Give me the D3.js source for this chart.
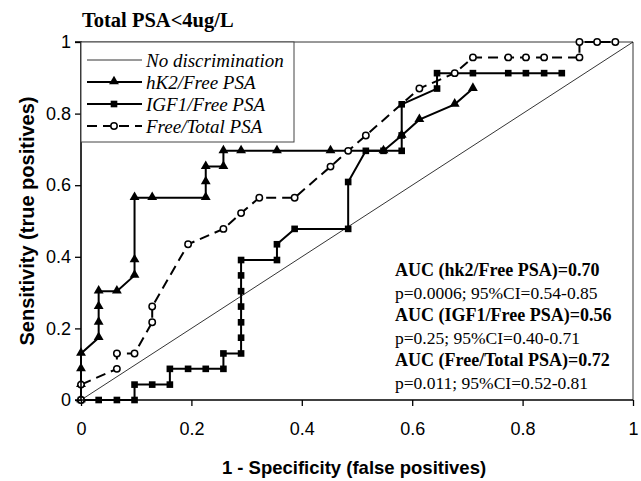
<!DOCTYPE html>
<html><head><meta charset="utf-8">
<script src="https://cdn.jsdelivr.net/npm/d3@7"></script>
<style>body{margin:0;background:#fff}</style>
</head><body><svg id="c" width="641" height="481"></svg>
<script>
const tickValues = [0, 0.2, 0.4, 0.6, 0.8, 1];
const tickLabels = ["0", "0.2", "0.4", "0.6", "0.8", "1"];

const diagX = [0, 1];
const diagY = [0, 1];

const hk2X = [0, 0, 0, 0, 0.032, 0.032, 0.032, 0.032, 0.065, 0.097, 0.097, 0.097, 0.129, 0.226, 0.226, 0.226, 0.258, 0.258, 0.290, 0.355, 0.452, 0.548, 0.581, 0.613, 0.677, 0.710];
const hk2Y = [0, 0.043, 0.087, 0.130, 0.174, 0.217, 0.261, 0.304, 0.304, 0.348, 0.391, 0.565, 0.565, 0.565, 0.609, 0.652, 0.652, 0.696, 0.696, 0.696, 0.696, 0.696, 0.739, 0.783, 0.826, 0.870];

const igfX = [0, 0.032, 0.065, 0.097, 0.097, 0.129, 0.161, 0.161, 0.194, 0.226, 0.258, 0.258, 0.290, 0.290, 0.290, 0.290, 0.290, 0.290, 0.290, 0.355, 0.355, 0.387, 0.484, 0.484, 0.516, 0.548, 0.581, 0.581, 0.581, 0.645, 0.645, 0.710, 0.774, 0.806, 0.839, 0.871];
const igfY = [0, 0, 0, 0, 0.043, 0.043, 0.043, 0.087, 0.087, 0.087, 0.087, 0.130, 0.130, 0.174, 0.217, 0.261, 0.304, 0.348, 0.391, 0.391, 0.435, 0.478, 0.478, 0.609, 0.696, 0.696, 0.696, 0.739, 0.826, 0.870, 0.913, 0.913, 0.913, 0.913, 0.913, 0.913];

const ftX = [0, 0, 0.065, 0.065, 0.097, 0.129, 0.129, 0.194, 0.258, 0.290, 0.323, 0.387, 0.452, 0.484, 0.516, 0.613, 0.677, 0.710, 0.774, 0.806, 0.839, 0.903, 0.903, 0.935, 0.968];
const ftY = [0, 0.043, 0.087, 0.130, 0.130, 0.217, 0.261, 0.435, 0.478, 0.522, 0.565, 0.565, 0.652, 0.696, 0.739, 0.870, 0.913, 0.957, 0.957, 0.957, 0.957, 0.957, 1, 1, 1];

const legendLabels = ["No discrimination", "hK2/Free PSA", "IGF1/Free PSA", "Free/Total PSA"];
const aucLines = [
  ["AUC (hk2/Free PSA)=0.70", true],
  ["p=0.0006; 95%CI=0.54-0.85", false],
  ["AUC (IGF1/Free PSA)=0.56", true],
  ["p=0.25; 95%CI=0.40-0.71", false],
  ["AUC (Free/Total PSA)=0.72", true],
  ["p=0.011; 95%CI=0.52-0.81", false]
];
const titleText = "Total PSA<4ug/L";
const xTitle = "1 - Specificity (false positives)";
const yTitle = "Sensitivity (true positives)";

const L = 81, R = 633, T = 42, B = 400;
const svg = d3.select("#c");
const x = d3.scaleLinear().domain([0, 1]).range([L, R]);
const y = d3.scaleLinear().domain([0, 1]).range([B, T]);

// frame (top, right thin)
svg.append("path").attr("d", `M${L},${T}H${R}V${B}`).attr("fill", "none").attr("stroke", "#333").attr("stroke-width", 1);

// diagonal
svg.append("path").datum(diagX.map((d, i) => [d, diagY[i]]))
  .attr("d", d3.line().x(d => x(d[0])).y(d => y(d[1])))
  .attr("fill", "none").attr("stroke", "#000").attr("stroke-width", 0.8);

function series(xs, ys, dash, marker) {
  const pts = xs.map((d, i) => [d, ys[i]]);
  svg.append("path").datum(pts)
    .attr("d", d3.line().x(d => x(d[0])).y(d => y(d[1])))
    .attr("fill", "none").attr("stroke", "#000").attr("stroke-width", 2)
    .attr("stroke-dasharray", dash || null);
  const g = svg.append("g");
  pts.forEach(p => drawMarker(g, x(p[0]), y(p[1]), marker));
}
function drawMarker(g, cx, cy, marker) {
  if (marker === "tri") {
    g.append("path").attr("d", d3.symbol(d3.symbolTriangle, 42)()).attr("transform", `translate(${cx},${cy - 0.5})`).attr("fill", "#000");
  } else if (marker === "sq") {
    g.append("path").attr("d", d3.symbol(d3.symbolSquare, 44)()).attr("transform", `translate(${cx},${cy})`).attr("fill", "#000");
  } else if (marker === "circ") {
    g.append("circle").attr("cx", cx).attr("cy", cy).attr("r", 3.2).attr("fill", "#fff").attr("stroke", "#000").attr("stroke-width", 1.5);
  }
}

series(hk2X, hk2Y, null, "tri");
series(igfX, igfY, null, "sq");
series(ftX, ftY, "10,6", "circ");

// axes
const xAxis = d3.axisBottom(x).tickValues(tickValues).tickFormat((d, i) => tickLabels[i]).tickSize(6).tickPadding(16);
const yAxis = d3.axisLeft(y).tickValues(tickValues).tickFormat((d, i) => tickLabels[i]).tickSize(6).tickPadding(4);
const gx = svg.append("g").attr("transform", `translate(0,${B})`).call(xAxis);
const gy = svg.append("g").attr("transform", `translate(${L},0)`).call(yAxis);
[gx, gy].forEach(g => {
  g.select(".domain").attr("stroke", "#000").attr("stroke-width", 1.6);
  g.selectAll(".tick line").attr("stroke", "#000").attr("stroke-width", 1.3);
  g.selectAll(".tick text").attr("font-family", "Liberation Sans, Arial, sans-serif").attr("font-size", 18).attr("fill", "#000");
});
gx.select(".domain").attr("d", `M${L},0H${R}`);
gx.selectAll(".tick line").attr("y2", 6);
gy.select(".domain").attr("d", `M-6,${B}H0V${T}H-6`);

// legend
const lg = svg.append("g");
lg.append("rect").attr("x", L).attr("y", T).attr("width", 213).attr("height", 100)
  .attr("fill", "#fff").attr("stroke", "#444").attr("stroke-width", 1);
const rowY = [60, 82, 104, 126];
const styles = [
  {w: 0.8, dash: null, m: null},
  {w: 2, dash: null, m: "tri"},
  {w: 2, dash: null, m: "sq"},
  {w: 2, dash: "10,6", m: "circ"}
];
legendLabels.forEach((lab, i) => {
  lg.append("line").attr("x1", 87).attr("x2", 142).attr("y1", rowY[i]).attr("y2", rowY[i])
    .attr("stroke", "#000").attr("stroke-width", styles[i].w).attr("stroke-dasharray", styles[i].dash);
  if (styles[i].m) drawMarker(lg, 114, rowY[i], styles[i].m);
  lg.append("text").attr("x", 146).attr("y", rowY[i] + 6.5).text(lab)
    .attr("font-family", "Liberation Serif, Times New Roman, serif").attr("font-style", "italic")
    .attr("font-size", 19).attr("fill", "#000");
});

// title
svg.append("text").attr("x", 82).attr("y", 27).text(titleText)
  .attr("font-family", "Liberation Serif, Times New Roman, serif").attr("font-weight", "bold")
  .attr("font-size", 20.5).attr("fill", "#000");

// AUC text
aucLines.forEach((l, i) => {
  svg.append("text").attr("x", 395).attr("y", 276 + i * 22.6).text(l[0])
    .attr("font-family", "Liberation Serif, Times New Roman, serif")
    .attr("font-weight", l[1] ? "bold" : "normal")
    .attr("font-size", l[1] ? 18 : 17.5).attr("fill", "#000");
});

// axis titles
svg.append("text").attr("x", 354).attr("y", 474).attr("text-anchor", "middle").text(xTitle)
  .attr("font-family", "Liberation Sans, Arial, sans-serif").attr("font-weight", "bold")
  .attr("font-size", 18.5).attr("fill", "#000");
svg.append("text").attr("transform", "translate(34,221) rotate(-90)").attr("text-anchor", "middle").text(yTitle)
  .attr("font-family", "Liberation Sans, Arial, sans-serif").attr("font-weight", "bold")
  .attr("font-size", 20).attr("fill", "#000");
</script>
</body></html>
